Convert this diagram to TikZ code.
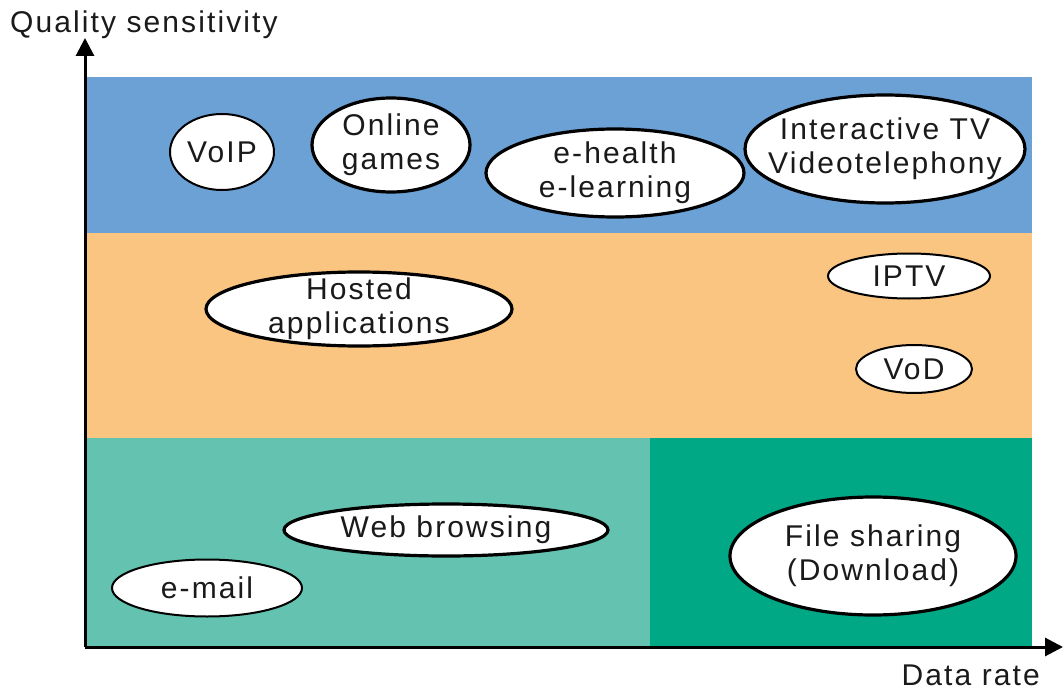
\documentclass[tikz,border=0pt]{standalone}
\usepackage{fontspec}
\setmainfont[LetterSpace=7]{Liberation Sans}
\usetikzlibrary{shapes.geometric,arrows.meta}
\definecolor{bandblue}{HTML}{6CA1D5}
\definecolor{bandorange}{HTML}{FAC580}
\definecolor{bandteal}{HTML}{64C2B0}
\definecolor{bandgreen}{HTML}{00A886}
\definecolor{txt}{HTML}{1A1A1A}
\begin{document}
\begin{tikzpicture}[x=1pt,y=-1pt,
  app/.style={ellipse,draw=black,fill=white,inner xsep=-80pt,inner ysep=-40pt,align=center,
    text=txt,font=\fontsize{30}{34}\selectfont},
  thinb/.style={line width=2pt},
  thickb/.style={line width=3.2pt},
  axis/.style={line width=3pt,-{Triangle[length=18pt,width=18pt]}},
  lbl/.style={font=\fontsize{30}{34}\selectfont,text=txt,inner sep=0pt}]
\useasboundingbox (0,0) rectangle (1063,690);
% bands
\fill[bandblue] (85,77) rectangle (1032,233);
\fill[bandorange] (85,233) rectangle (1032,438);
\fill[bandteal] (85,438) rectangle (650,647);
\fill[bandgreen] (650,438) rectangle (1032,647);
% axes
\coordinate (o) at (85,647);
\coordinate (ytip) at (85,38);
\coordinate (xtip) at (1063,647);
\draw[axis] (o) -- (ytip);
\draw[axis] (o) -- (xtip);
\node[lbl,anchor=base west] (ql) at (10,33) {Quality sensitivity};
\node[lbl,anchor=base east] (dl) at (1040,685) {Data rate};
% applications
\node[app,thinb,minimum width=104pt,minimum height=76pt] (voip) at (222,152) {VoIP};
\node[app,thickb,minimum width=158pt,minimum height=94pt] (games) at (391,145) {Online\\games};
\node[app,thickb,minimum width=258pt,minimum height=88pt] (ehealth) at (615,173) {e-health\\e-learning};
\node[app,thickb,minimum width=280pt,minimum height=108pt] (itv) at (885,149) {Interactive TV\\Videotelephony};
\node[app,thickb,minimum width=306pt,minimum height=74pt] (hosted) at (359,309) {Hosted\\applications};
\node[app,thinb,minimum width=162pt,minimum height=45pt] (iptv) at (909,276) {IPTV};
\node[app,thinb,minimum width=116pt,minimum height=48pt] (vod) at (914,369) {VoD};
\node[app,thickb,minimum width=324pt,minimum height=52pt] (web) at (446,530) {Web browsing};
\node[app,thinb,minimum width=190pt,minimum height=57pt] (email) at (207,588) {e-mail};
\node[app,thickb,minimum width=286pt,minimum height=118pt] (file) at (873,556) {File sharing\\(Download)};
\end{tikzpicture}
\end{document}
